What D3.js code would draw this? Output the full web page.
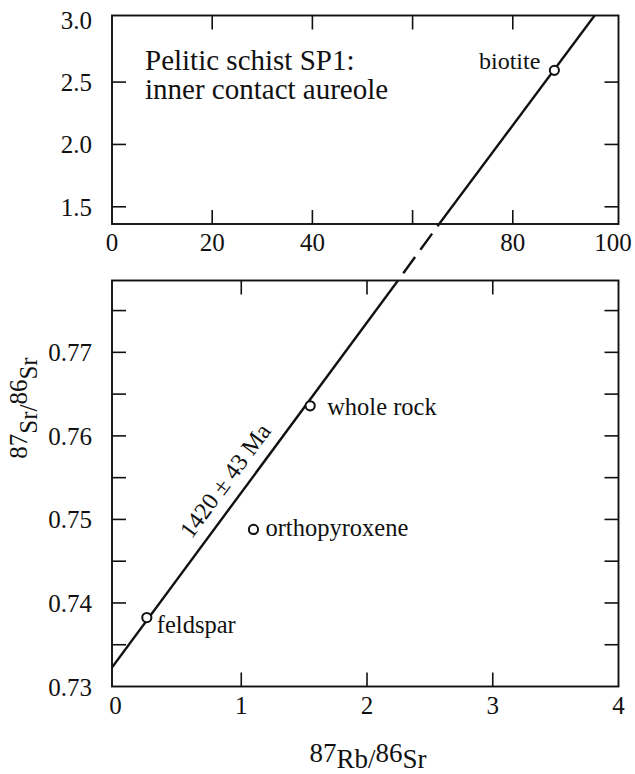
<!DOCTYPE html>
<html>
<head>
<meta charset="utf-8">
<script src="https://cdn.jsdelivr.net/npm/d3@7"></script>
<style>
  body { margin: 0; background: #fff; }
  svg, svg text { font-family: "Liberation Serif", "Times New Roman", Tinos, "DejaVu Serif", serif; }
  text { fill: #111; }
  .frame { fill: none; stroke: #111; stroke-width: 1.9; }
  .tick { stroke: #111; stroke-width: 1.6; }
  .iso { fill: none; stroke: #111; stroke-width: 2.4; }
  .pt { fill: #fff; stroke: #111; stroke-width: 2; }
</style>
</head>
<body>
<div id="chart"></div>
<script>
var width = 635, height = 774;
var serif = "'Liberation Serif', 'Times New Roman', Tinos, 'DejaVu Serif', serif";

// upper panel: biotite (Rb/Sr 0-100)
var topXTicks  = [20, 40, 60, 80];
var topXLabels = [0, 20, 40, 80, 100];
var topYTicks  = [1.5, 2.0, 2.5];
var topYLabels = [1.5, 2.0, 2.5, 3.0];
var topPoints  = [{name: "biotite", x: 88.3, y: 2.594}];
var topLine    = [[65, 1.346], [97, 3.07]];

// lower panel: 87Sr/86Sr vs 87Rb/86Sr
var botXTicks  = [1, 2, 3];
var botXLabels = [0, 1, 2, 3, 4];
var botYTicks  = [0.735, 0.74, 0.745, 0.75, 0.755, 0.76, 0.765, 0.77, 0.775];
var botYLabels = [0.73, 0.74, 0.75, 0.76, 0.77];
var botPoints  = [
  {name: "feldspar",      x: 0.249, y: 0.73825},
  {name: "orthopyroxene", x: 1.097, y: 0.7488},
  {name: "whole rock",    x: 1.548, y: 0.7636}
];
var isochron   = [[-0.03, 0.73223], [2.3, 0.77969]];
var ageLabel   = "1420 \u00b1 43 Ma";

var svg = d3.select("#chart").append("svg")
  .attr("width", width)
  .attr("height", height)
  .attr("font-family", serif);

var left = 112, right = 618.5, tickLen = 14;

var xTop = d3.scaleLinear().domain([0, 101.1]).range([left, right]);
var yTop = d3.scaleLinear().domain([1.362, 3.034]).range([224, 15.5]);
var xBot = d3.scaleLinear().domain([-0.028, 4.0]).range([left, right]);
var yBot = d3.scaleLinear().domain([0.73, 0.7786]).range([686.5, 280.5]);

function drawPanel(x, y, xTicks, xLabels, yTicks, yLabels, fmtY, id) {
  var x0 = x.range()[0], x1 = x.range()[1];
  var y0 = y.range()[0], y1 = y.range()[1];
  var g = svg.append("g");

  g.append("clipPath").attr("id", id)
    .append("rect")
      .attr("x", x0).attr("y", y1)
      .attr("width", x1 - x0).attr("height", y0 - y1);

  g.append("rect").attr("class", "frame")
    .attr("x", x0).attr("y", y1)
    .attr("width", x1 - x0).attr("height", y0 - y1);

  // inward ticks on all four sides
  xTicks.forEach(function(v) {
    g.append("line").attr("class", "tick")
      .attr("x1", x(v)).attr("x2", x(v)).attr("y1", y0).attr("y2", y0 - tickLen);
    g.append("line").attr("class", "tick")
      .attr("x1", x(v)).attr("x2", x(v)).attr("y1", y1).attr("y2", y1 + tickLen);
  });
  yTicks.forEach(function(v) {
    g.append("line").attr("class", "tick")
      .attr("x1", x0).attr("x2", x0 + tickLen).attr("y1", y(v)).attr("y2", y(v));
    g.append("line").attr("class", "tick")
      .attr("x1", x1).attr("x2", x1 - tickLen).attr("y1", y(v)).attr("y2", y(v));
  });

  g.selectAll(".xl").data(xLabels).enter().append("text")
    .attr("x", function(d) { return x(d); })
    .attr("y", y0 + 27)
    .attr("text-anchor", "middle")
    .attr("font-family", serif)
    .style("font-size", "25px")
    .text(function(d) { return d; });

  g.selectAll(".yl").data(yLabels).enter().append("text")
    .attr("x", x0 - 20)
    .attr("y", function(d) { return y(d) + 9; })
    .attr("text-anchor", "end")
    .attr("font-family", serif)
    .style("font-size", "25px")
    .text(fmtY);

  return g;
}

var gTop = drawPanel(xTop, yTop, topXTicks, topXLabels, topYTicks, topYLabels,
  d3.format(".1f"), "clipTop");
var gBot = drawPanel(xBot, yBot, botXTicks, botXLabels, botYTicks, botYLabels,
  d3.format(".2f"), "clipBot");

var line = function(x, y) {
  return d3.line().x(function(d) { return x(d[0]); }).y(function(d) { return y(d[1]); });
};

gTop.append("path").attr("class", "iso")
  .attr("clip-path", "url(#clipTop)")
  .attr("d", line(xTop, yTop)(topLine));

gBot.append("path").attr("class", "iso")
  .attr("clip-path", "url(#clipBot)")
  .attr("d", line(xBot, yBot)(isochron));

// dashed link between the panels: where each line leaves its frame
function atY(pts, yv) {
  var a = pts[0], b = pts[1];
  return a[0] + (yv - a[1]) * (b[0] - a[0]) / (b[1] - a[1]);
}
var yBotTop = yBot.domain()[1], yTopBot = yTop.domain()[0];
svg.append("line")
  .attr("class", "iso")
  .attr("x1", xBot(atY(isochron, yBotTop))).attr("y1", yBot(yBotTop))
  .attr("x2", xTop(atY(topLine, yTopBot))).attr("y2", yTop(yTopBot))
  .style("stroke-dasharray", "20 9")
  .style("stroke-dashoffset", 20);

// points + labels
gTop.selectAll("circle").data(topPoints).enter().append("circle")
  .attr("class", "pt").attr("r", 4.6)
  .attr("cx", function(d) { return xTop(d.x); })
  .attr("cy", function(d) { return yTop(d.y); });
gTop.append("text")
  .attr("x", xTop(topPoints[0].x) - 14)
  .attr("y", yTop(topPoints[0].y) - 1)
  .attr("text-anchor", "end")
  .attr("font-family", serif)
  .style("font-size", "24px")
  .text(topPoints[0].name);

gBot.selectAll("circle").data(botPoints).enter().append("circle")
  .attr("class", "pt").attr("r", 4.6)
  .attr("cx", function(d) { return xBot(d.x); })
  .attr("cy", function(d) { return yBot(d.y); });

var labelOff = {"feldspar": [10, 15], "orthopyroxene": [12, 7], "whole rock": [17, 9]};
gBot.selectAll(".plab").data(botPoints).enter().append("text")
  .attr("x", function(d) { return xBot(d.x) + labelOff[d.name][0]; })
  .attr("y", function(d) { return yBot(d.y) + labelOff[d.name][1]; })
  .attr("font-family", serif)
  .style("font-size", "24.5px")
  .text(function(d) { return d.name; });

// age along the isochron
var ax = 1.0;
var ay = isochron[0][1] + (ax - isochron[0][0]) *
  (isochron[1][1] - isochron[0][1]) / (isochron[1][0] - isochron[0][0]);
var ang = Math.atan2(yBot(isochron[1][1]) - yBot(isochron[0][1]),
                     xBot(isochron[1][0]) - xBot(isochron[0][0])) * 180 / Math.PI;
gBot.append("text")
  .attr("transform", "translate(" + xBot(ax) + "," + yBot(ay) + ") rotate(" + ang + ")")
  .attr("y", -12)
  .attr("text-anchor", "middle")
  .attr("font-family", serif)
  .style("font-size", "24px")
  .text(ageLabel);

// panel note
var note = svg.append("text").attr("font-family", serif).style("font-size", "29px");
note.append("tspan").attr("x", 145).attr("y", 70).text("Pelitic schist SP1:");
note.append("tspan").attr("x", 145).attr("y", 99).text("inner contact aureole");

// axis titles with raised mass numbers
var xt = svg.append("text")
  .attr("x", 368).attr("y", 768)
  .attr("text-anchor", "middle")
  .attr("font-family", serif)
  .style("font-size", "27px");
xt.append("tspan").attr("dy", -6).text("87");
xt.append("tspan").attr("dy", 6).text("Rb/");
xt.append("tspan").attr("dy", -6).text("86");
xt.append("tspan").attr("dy", 6).text("Sr");

var yt = svg.append("text")
  .attr("transform", "translate(37,408) rotate(-90)")
  .attr("text-anchor", "middle")
  .attr("font-family", serif)
  .style("font-size", "25px");
yt.append("tspan").attr("dy", -10).text("87");
yt.append("tspan").attr("dy", 10).text("Sr/");
yt.append("tspan").attr("dy", -10).text("86");
yt.append("tspan").attr("dy", 10).text("Sr");
</script>
</body>
</html>
